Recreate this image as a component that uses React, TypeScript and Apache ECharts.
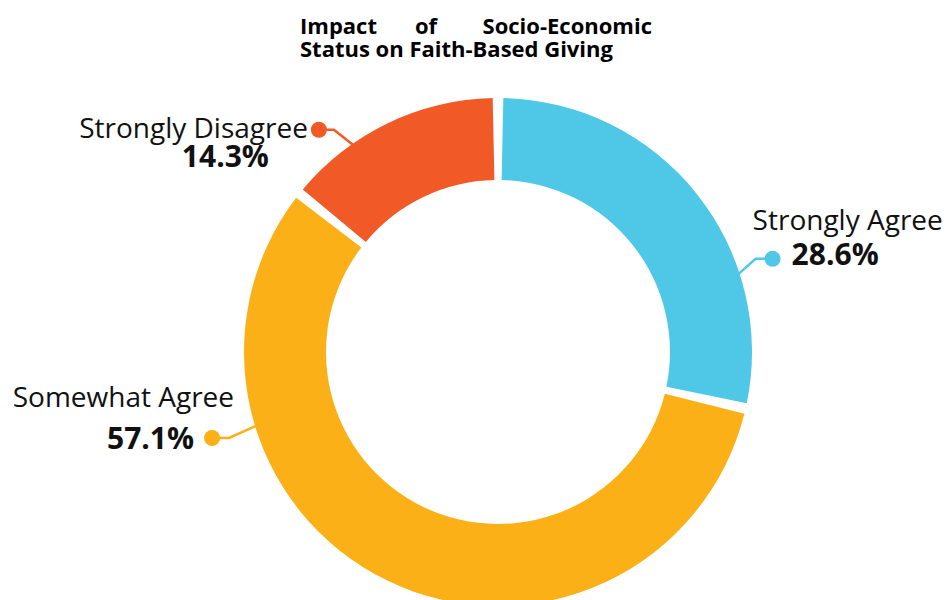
import React, { useEffect, useRef } from 'react';
import * as echarts from 'echarts';

// ---- data ----
const categories = ['Strongly Agree', 'Somewhat Agree', 'Strongly Disagree'];
const counts = [2, 4, 1];
const colors = ['#4fc8e7', '#fbb018', '#f15a27'];
const titleWords = ['Impact', 'of', 'Socio-Economic'];
const titleLine2 = 'Status on Faith-Based Giving';

// ---- layout ----
const FONT = '"Open Sans", "Noto Sans", sans-serif';
const CX = 498;
const CY = 352;
const R_OUT = 254;
const R_IN = 172;
const DOT = 16;

type Cfg = {
  side: 'left' | 'right';
  anchorDeg: number;
  elbow: [number, number];
  tail: number;
  dotOnName: boolean;
  lead: number;
  gap: number;
  nameLH: number;
  pctLH: number;
  pctShift: number;
  nameShift: number;
};

const labelCfg: Cfg[] = [
  { side: 'right', anchorDeg: 18, elbow: [17, -15], tail: 17, dotOnName: false, lead: 20, gap: 11, nameLH: 48, pctLH: 32, pctShift: 5, nameShift: 0 },
  { side: 'left', anchorDeg: 197, elbow: [-27, 12], tail: 17, dotOnName: false, lead: 22, gap: 10, nameLH: 51, pctLH: 32, pctShift: 0, nameShift: 0 },
  { side: 'left', anchorDeg: 125, elbow: [-19, -15], tail: 15, dotOnName: true, lead: 58, gap: 3, nameLH: 25, pctLH: 27, pctShift: 0, nameShift: 3 },
];

function linePoints(i: number) {
  const c = labelCfg[i];
  const a = (c.anchorDeg * Math.PI) / 180;
  const r = R_OUT - 1;
  const p0 = [CX + r * Math.cos(a), CY - r * Math.sin(a)];
  const p1 = [p0[0] + c.elbow[0], p0[1] + c.elbow[1]];
  const p2 = [p1[0] + (c.side === 'right' ? c.tail : -c.tail), p1[1]];
  return [p0, p1, p2];
}

export default function App() {
  const ref = useRef<HTMLDivElement>(null);

  useEffect(() => {
    if (!ref.current) return;
    const chart = echarts.init(ref.current, null, { renderer: 'svg' });

    const rich: Record<string, any> = {};
    categories.forEach((_, i) => {
      const c = labelCfg[i];
      rich['n' + i] = {
        fontSize: 28,
        color: '#111',
        fontFamily: FONT,
        lineHeight: c.nameLH,
        padding: [0, 0, 2 * c.nameShift, 0],
      };
      rich['p' + i] = {
        fontSize: 30,
        fontWeight: 'bold',
        color: '#111',
        fontFamily: FONT,
        lineHeight: c.pctLH,
        padding: [0, 0, 2 * c.pctShift, 0],
      };
      rich['d' + i] = {
        width: DOT,
        height: DOT,
        borderRadius: DOT / 2,
        backgroundColor: colors[i],
        lineHeight: DOT,
      };
      rich['g' + i] = { width: c.gap, lineHeight: DOT };
      rich['s' + i] = { width: c.dotOnName ? c.lead : c.lead - DOT / 2, lineHeight: DOT };
    });

    const data = categories.map((name, i) => ({
      name,
      value: counts[i],
      itemStyle: { color: colors[i] },
    }));

    const titleStyle = { fontSize: 22, fontWeight: 'bold', fontFamily: FONT, fill: '#000', verticalAlign: 'middle' };

    chart.setOption({
      animation: false,
      backgroundColor: '#ffffff',
      graphic: [
        { type: 'text', x: 300, y: 24.5, style: { ...titleStyle, text: titleWords[0], align: 'left' } },
        { type: 'text', x: 426, y: 24.5, style: { ...titleStyle, text: titleWords[1], align: 'center' } },
        { type: 'text', x: 652, y: 24.5, style: { ...titleStyle, text: titleWords[2], align: 'right' } },
        { type: 'text', x: 300, y: 47.5, style: { ...titleStyle, text: titleLine2, align: 'left' } },
      ],
      series: [
        {
          type: 'pie',
          center: [CX, CY],
          radius: [R_IN, R_OUT],
          startAngle: 90,
          clockwise: true,
          padAngle: 2.4,
          percentPrecision: 1,
          avoidLabelOverlap: false,
          emphasis: { disabled: true },
          label: {
            show: true,
            position: 'outside',
            distanceToLabelLine: 0,
            formatter: (p: any) => {
              const i = p.dataIndex;
              const c = labelCfg[i];
              const pct = Number(p.percent).toFixed(1) + '%';
              if (c.side === 'right') {
                return `{n${i}|${p.name}}\n{s${i}|}{d${i}|}{g${i}|}{p${i}|${pct}}`;
              }
              if (c.dotOnName) {
                return `{n${i}|${p.name}}{g${i}|}{d${i}|}\n{p${i}|${pct}}{s${i}|}`;
              }
              return `{n${i}|${p.name}}\n{p${i}|${pct}}{g${i}|}{d${i}|}{s${i}|}`;
            },
            rich,
          },
          labelLine: {
            show: true,
            length: 15,
            length2: 15,
            lineStyle: { width: 2.5 },
          },
          labelLayout: (params: any) => {
            const i = params.dataIndex;
            const c = labelCfg[i];
            const pts = linePoints(i);
            const dot = pts[2];
            if (c.side === 'right') {
              return {
                x: dot[0] - c.lead,
                y: dot[1] + c.pctLH / 2,
                align: 'left',
                verticalAlign: 'bottom',
                labelLinePoints: pts,
              };
            }
            if (c.dotOnName) {
              return {
                x: dot[0] + DOT / 2,
                y: dot[1] - c.nameLH / 2,
                align: 'right',
                verticalAlign: 'top',
                labelLinePoints: pts,
              };
            }
            return {
              x: dot[0] + c.lead,
              y: dot[1] + c.pctLH / 2,
              align: 'right',
              verticalAlign: 'bottom',
              labelLinePoints: pts,
            };
          },
          data,
        },
      ],
    });

    return () => chart.dispose();
  }, []);

  return (
    <div
      ref={ref}
      style={{ position: 'absolute', left: 0, top: 0, width: 950, height: 600 }}
    />
  );
}
